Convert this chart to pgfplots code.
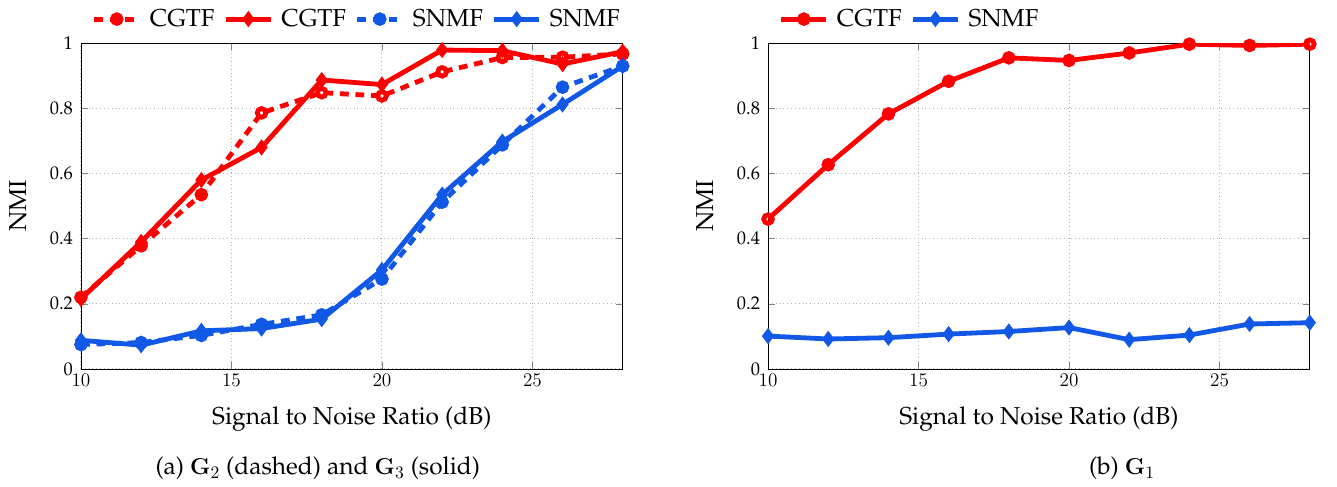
\documentclass[border=0pt]{standalone}
\usepackage[T1]{fontenc}
\renewcommand{\rmdefault}{ppl}
\usepackage{pgfplots}
\pgfplotsset{compat=1.18}
\definecolor{myred}{RGB}{255,0,0}
\definecolor{myblue}{RGB}{18,88,230}
\newcommand{\lblfont}{\fontsize{15.3}{18}\selectfont}
\pgfplotsset{
  common/.style={
    scale only axis, width=338.6pt, height=203.6pt,
    xmin=10, xmax=28, ymin=0, ymax=1,
    xtick={10,15,20,25}, ytick={0,0.2,0.4,0.6,0.8,1},
    yticklabels={0,0.2,0.4,0.6,0.8,1},
    grid=major, grid style={dotted, gray!60, line width=0.6pt},
    tick label style={font=\fontsize{11.5}{13.8}\selectfont},
    yticklabel style={xshift=-1.5pt},
    label style={font=\lblfont},
    xlabel={Signal to Noise Ratio (dB)}, ylabel={NMI},
    xlabel style={at={(axis description cs:0.5,0)}, anchor=base, yshift=-35pt},
    ylabel style={at={(axis description cs:-0.1163,0.5)}, anchor=center},
    legend columns=-1,
    legend style={draw=none, fill=none, font=\lblfont, inner sep=0pt, outer sep=0pt,
      anchor=south west, at={(0,1)}, xshift=6.9pt, yshift=9pt,
      nodes={inner sep=0pt},
      /tikz/every odd column/.append style={column sep=5.2pt},
      /tikz/every even column/.append style={column sep=5.6pt}},
    legend image code/.code={\draw[mark repeat=2,mark phase=2] plot coordinates {(0pt,0pt)(14pt,0pt)(28pt,0pt)};},
  },
  cd/.style={line width=3pt, dash pattern=on 5.5pt off 4.2pt, mark=o, mark size=2.7pt, mark options={solid}},
  cs/.style={line width=3pt, solid, mark=diamond*, mark size=2.6pt, mark options={solid}},
}
\begin{document}
\begin{tikzpicture}
\path[use as bounding box] (-50.6pt,-73.75pt) rectangle (785pt,230.6pt);
\begin{axis}[common]
\addplot[myred, cd] coordinates {(10,0.22) (12,0.378) (14,0.535) (16,0.786) (18,0.848) (20,0.838) (22,0.912) (24,0.956) (26,0.957) (28,0.967)};
\addlegendentry{CGTF}
\addplot[myred, cs] coordinates {(10,0.215) (12,0.39) (14,0.58) (16,0.68) (18,0.887) (20,0.873) (22,0.979) (24,0.977) (26,0.936) (28,0.974)};
\addlegendentry{CGTF}
\addplot[myblue, cd] coordinates {(10,0.075) (12,0.081) (14,0.103) (16,0.137) (18,0.166) (20,0.276) (22,0.512) (24,0.688) (26,0.865) (28,0.93)};
\addlegendentry{SNMF}
\addplot[myblue, cs] coordinates {(10,0.088) (12,0.073) (14,0.117) (16,0.124) (18,0.153) (20,0.304) (22,0.535) (24,0.698) (26,0.812) (28,0.93)};
\addlegendentry{SNMF}
\end{axis}
\node[font=\lblfont, anchor=base] at (148pt,-66.25pt) {(a) $\mathbf{G}_2$ (dashed) and $\mathbf{G}_3$ (solid)};
\begin{axis}[common, at={(429.4pt,0pt)}]
\addplot[myred, line width=3pt, mark=o, mark size=2.7pt] coordinates {(10,0.46) (12,0.627) (14,0.783) (16,0.883) (18,0.955) (20,0.947) (22,0.97) (24,0.997) (26,0.993) (28,0.997)};
\addlegendentry{CGTF}
\addplot[myblue, cs] coordinates {(10,0.101) (12,0.092) (14,0.096) (16,0.107) (18,0.115) (20,0.127) (22,0.09) (24,0.104) (26,0.138) (28,0.142)};
\addlegendentry{SNMF}
\end{axis}
\node[font=\lblfont, anchor=base] at (650.6pt,-66.25pt) {(b) $\mathbf{G}_1$};
\end{tikzpicture}
\end{document}
